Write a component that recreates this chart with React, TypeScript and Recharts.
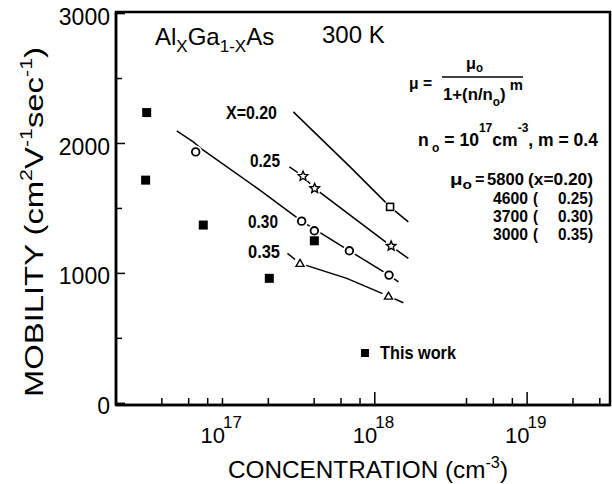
import React from 'react';
import { ComposedChart, Line, Scatter, XAxis, YAxis, ReferenceArea, Customized, Legend } from 'recharts';

const FONT = "'Liberation Sans', Arial, Helvetica, sans-serif";

// ---- axes ----
const xDomain: [number, number] = [2e16, 3.5e19];
const yDomain: [number, number] = [-13, 3012];
const xTicks = [4e16, 6e16, 8e16, 1e17, 2e17, 4e17, 6e17, 8e17, 1e18, 4e18, 6e18, 8e18, 1e19, 2e19, 3e19];
const xLongTicks = [1e18, 1e19];
const xTickLabels = [
  { v: 1e17, base: '10', exp: '17' },
  { v: 1e18, base: '10', exp: '18' },
  { v: 1e19, base: '10', exp: '19' },
];
const yTicks = [0, 500, 1000, 1500, 2000, 2500, 3000];
const yTickLabels = [0, 1000, 2000, 3000];

// ---- model curves ----
const curve020 = [
  { n: 2.92e17, mu: 2243 }, { n: 6.88e17, mu: 1820 }, { n: 1.26e18, mu: 1512 }, { n: 1.66e18, mu: 1397 },
];
const marks020 = [{ n: 1.26e18, mu: 1512 }];

const curve025 = [
  { n: 2.75e17, mu: 1820 }, { n: 3.38e17, mu: 1748 }, { n: 4.03e17, mu: 1654 }, { n: 1.28e18, mu: 1210 }, { n: 1.66e18, mu: 1115 },
];
const marks025 = [{ n: 3.38e17, mu: 1748 }, { n: 4.03e17, mu: 1654 }, { n: 1.28e18, mu: 1210 }];

const curve030 = [
  { n: 5.01e16, mu: 2097 }, { n: 6.43e16, mu: 2012 }, { n: 7.48e16, mu: 1948 }, { n: 1.76e17, mu: 1641 },
  { n: 3.31e17, mu: 1402 }, { n: 6.81e17, mu: 1174 }, { n: 1.24e18, mu: 987 }, { n: 1.43e18, mu: 935 },
];
const marks030 = [
  { n: 6.67e16, mu: 1935 }, { n: 3.31e17, mu: 1402 }, { n: 4.01e17, mu: 1328 }, { n: 6.81e17, mu: 1174 }, { n: 1.24e18, mu: 987 },
];

const curve035 = [
  { n: 2.67e17, mu: 1154 }, { n: 3.23e17, mu: 1077 }, { n: 6.55e17, mu: 962 }, { n: 1.23e18, mu: 825 }, { n: 1.54e18, mu: 774 },
];
const marks035 = [{ n: 3.23e17, mu: 1077 }, { n: 1.23e18, mu: 825 }];

// ---- measured data ----
const thisWork = [
  { n: 3.18e16, mu: 2238 }, { n: 3.13e16, mu: 1718 }, { n: 7.48e16, mu: 1372 }, { n: 2.03e17, mu: 962 }, { n: 4.01e17, mu: 1251 },
];
const thisWorkName = 'This work';

// ---- annotation text ----
const muParams = [
  { mu0: '5800', x: 'x=0.20' },
  { mu0: '4600', x: '0.25' },
  { mu0: '3700', x: '0.30' },
  { mu0: '3000', x: '0.35' },
];

// condensed bold text, width fitted with textLength
function NT({ x, y, s, w, anchor = 'start', children }: any) {
  return (
    <text x={x} y={y} fontSize={s} fontWeight="bold" textAnchor={anchor} fontFamily={FONT} fill="#000"
      textLength={w} lengthAdjust="spacingAndGlyphs">
      {children}
    </text>
  );
}

function XTick(props: any) {
  const { x, y, payload } = props;
  const v = payload.value;
  const len = xLongTicks.includes(v) ? 13 : 7;
  const lab = xTickLabels.find((t) => t.v === v);
  return (
    <g>
      <line x1={x} x2={x} y1={y} y2={y - len} stroke="#000" strokeWidth={1.5} />
      {lab && (
        <text fontFamily={FONT} fill="#000">
          <tspan x={x - 22} y={y + 38} fontSize={22}>{lab.base}</tspan>
          <tspan x={x + 0.5} y={y + 23} fontSize={17}>{lab.exp}</tspan>
        </text>
      )}
    </g>
  );
}

function YTick(props: any) {
  const { x, y, payload } = props;
  const v = payload.value;
  const major = yTickLabels.includes(v);
  return (
    <g>
      <line x1={x} x2={x + (major ? 9 : 6)} y1={y} y2={y} stroke="#000" strokeWidth={1.5} />
      {major && (
        <text x={x - 6} y={y + 3} dy="0.35em" textAnchor="end" fontSize={23} fontFamily={FONT} fill="#000">{v}</text>
      )}
    </g>
  );
}

function starPath(cx: number, cy: number, R: number, r: number) {
  let d = '';
  for (let i = 0; i < 10; i++) {
    const a = -Math.PI / 2 + (i * Math.PI) / 5;
    const rad = i % 2 === 0 ? R : r;
    d += (i === 0 ? 'M' : 'L') + (cx + rad * Math.cos(a)).toFixed(2) + ',' + (cy + rad * Math.sin(a)).toFixed(2);
  }
  return d + 'Z';
}

const halo = (cx: number, cy: number) => <circle cx={cx} cy={cy} r={6.5} fill="#fff" />;

const OpenSquare = (p: any) => (
  <g>{halo(p.cx, p.cy)}<rect x={p.cx - 3.5} y={p.cy - 3.5} width={7} height={7} fill="#fff" stroke="#000" strokeWidth={1.6} /></g>
);
const OpenStar = (p: any) => (
  <g>{halo(p.cx, p.cy)}<path d={starPath(p.cx, p.cy, 5, 2.3)} fill="#fff" stroke="#000" strokeWidth={1.4} /></g>
);
const OpenCircle = (p: any) => (
  <g>{halo(p.cx, p.cy)}<circle cx={p.cx} cy={p.cy} r={3.8} fill="#fff" stroke="#000" strokeWidth={1.8} /></g>
);
const OpenTriangle = (p: any) => (
  <g>{halo(p.cx, p.cy)}<path d={`M${p.cx},${p.cy - 4}L${p.cx + 4},${p.cy + 3}L${p.cx - 4},${p.cy + 3}Z`} fill="#fff" stroke="#000" strokeWidth={1.4} /></g>
);
const FilledSquare = (p: any) => (
  <rect x={p.cx - 4.5} y={p.cy - 4.5} width={9} height={9} fill="#000" />
);

function Annotations() {
  const rowY = [185, 203.5, 222, 240];
  return (
    <g fontFamily={FONT} fill="#000">
      {/* y-axis title */}
      <text transform="translate(43,222) rotate(-90)" textAnchor="middle" fontSize={26}
        textLength={350} lengthAdjust="spacingAndGlyphs">
        MOBILITY (cm<tspan fontSize={17} dy={-11}>2</tspan><tspan fontSize={26} dy={11}>V</tspan>
        <tspan fontSize={17} dy={-11}>-1</tspan><tspan fontSize={26} dy={11}>sec</tspan>
        <tspan fontSize={17} dy={-11}>-1</tspan><tspan fontSize={26} dy={11}>)</tspan>
      </text>
      {/* x-axis title */}
      <text x={228} y={478} fontSize={24} textLength={280} lengthAdjust="spacingAndGlyphs">
        CONCENTRATION (cm<tspan fontSize={16} dy={-10}>-3</tspan><tspan fontSize={24} dy={10}>)</tspan>
      </text>
      {/* title */}
      <text x={155} y={45} fontSize={24}>
        Al<tspan fontSize={17} dy={7}>X</tspan><tspan fontSize={24} dy={-7}>Ga</tspan>
        <tspan fontSize={17} dy={7}>1-X</tspan><tspan fontSize={24} dy={-7}>As</tspan>
      </text>
      <text x={322} y={43} fontSize={24}>300 K</text>

      {/* curve labels */}
      <NT x={226} y={119} s={18} w={51}>X=0.20</NT>
      <NT x={250} y={167} s={18} w={30}>0.25</NT>
      <NT x={248} y={228} s={18} w={30}>0.30</NT>
      <NT x={248} y={258} s={18} w={32}>0.35</NT>

      {/* formula */}
      <NT x={409} y={89} s={17} w={23}>μ =</NT>
      <NT x={466} y={69} s={17} w={17}>μ<tspan fontSize={12} dy={3}>o</tspan></NT>
      <line x1={442} x2={523} y1={77} y2={77} stroke="#000" strokeWidth={1.5} />
      <NT x={443} y={100} s={17} w={80}>
        1+(n/n<tspan fontSize={12} dy={6}>o</tspan><tspan fontSize={17} dy={-6}>)</tspan>
        <tspan fontSize={15} dy={-10}> m</tspan>
      </NT>

      {/* n0, m */}
      <NT x={418} y={146} s={17.5} w={180}>
        n<tspan fontSize={12} dy={6}> o</tspan><tspan fontSize={17.5} dy={-6}> = 10</tspan>
        <tspan fontSize={12} dy={-14}>17</tspan><tspan fontSize={17.5} dy={14}>cm</tspan>
        <tspan fontSize={12} dy={-14}>-3</tspan><tspan fontSize={17.5} dy={14}>, m = 0.4</tspan>
      </NT>

      {/* mu0 table */}
      <NT x={450} y={rowY[0]} s={16} w={22}>μ<tspan fontSize={12} dy={4}>o</tspan></NT>
      <NT x={475} y={rowY[0]} s={16} w={9.5}>=</NT>
      {muParams.map((r, i) => (
        <g key={i}>
          <NT x={i === 0 ? 487 : 493} y={rowY[i]} s={16} w={i === 0 ? 37 : 35}>{r.mu0}</NT>
          {i === 0 ? (
            <NT x={528} y={rowY[i]} s={16} w={65}>({r.x})</NT>
          ) : (
            <>
              <NT x={533} y={rowY[i]} s={16} w={5}>(</NT>
              <NT x={593} y={rowY[i]} s={16} w={35} anchor="end">{r.x})</NT>
            </>
          )}
        </g>
      ))}
    </g>
  );
}

const renderLegend = (props: any) => {
  const items = (props.payload || []).filter((p: any) => p.value === thisWorkName).slice(0, 1);
  return (
    <svg width={130} height={24} style={{ display: 'block' }}>
      {items.map((p: any, i: number) => (
        <g key={i}>
          <rect x={1} y={7} width={8} height={8} fill="#000" />
          <NT x={20} y={17} s={19} w={76}>{p.value}</NT>
        </g>
      ))}
    </svg>
  );
};

export default function App() {
  return (
    <div style={{ position: 'absolute', left: 0, top: 0, width: 612, height: 484, background: '#fff' }}>
      <ComposedChart width={612} height={484} margin={{ top: 12, right: 2, bottom: 0, left: 0 }}>
        <XAxis dataKey="n" type="number" scale="log" domain={xDomain} allowDataOverflow ticks={xTicks}
          tick={<XTick />} tickLine={false} tickSize={0} tickMargin={0} height={79} interval={0}
          axisLine={{ stroke: '#000', strokeWidth: 2.5 }} />
        <YAxis dataKey="mu" type="number" domain={yDomain} allowDataOverflow ticks={yTicks}
          tick={<YTick />} tickLine={false} tickSize={0} tickMargin={0} width={116} interval={0}
          axisLine={{ stroke: '#000', strokeWidth: 2.5 }} />
        <ReferenceArea x1={xDomain[0]} x2={xDomain[1]} y1={yDomain[0]} y2={yDomain[1]} fill="none"
          fillOpacity={0} stroke="#000" strokeWidth={2.5} ifOverflow="visible" />

        <Line data={curve020} dataKey="mu" type="linear" stroke="#000" strokeWidth={1.5} dot={false} activeDot={false} isAnimationActive={false} legendType="none" />
        <Line data={curve025} dataKey="mu" type="linear" stroke="#000" strokeWidth={1.5} dot={false} activeDot={false} isAnimationActive={false} legendType="none" />
        <Line data={curve030} dataKey="mu" type="linear" stroke="#000" strokeWidth={1.5} dot={false} activeDot={false} isAnimationActive={false} legendType="none" />
        <Line data={curve035} dataKey="mu" type="linear" stroke="#000" strokeWidth={1.5} dot={false} activeDot={false} isAnimationActive={false} legendType="none" />

        <Scatter data={marks020} dataKey="mu" shape={OpenSquare} isAnimationActive={false} legendType="none" />
        <Scatter data={marks025} dataKey="mu" shape={OpenStar} isAnimationActive={false} legendType="none" />
        <Scatter data={marks030} dataKey="mu" shape={OpenCircle} isAnimationActive={false} legendType="none" />
        <Scatter data={marks035} dataKey="mu" shape={OpenTriangle} isAnimationActive={false} legendType="none" />
        <Scatter name={thisWorkName} data={thisWork} dataKey="mu" shape={FilledSquare} fill="#000" isAnimationActive={false} legendType="square" />

        <Legend content={renderLegend} layout="horizontal" verticalAlign="middle" align="center"
          wrapperStyle={{ left: 360, top: 342, width: 130, height: 24 }} />
        <Customized component={Annotations} />
      </ComposedChart>
    </div>
  );
}
